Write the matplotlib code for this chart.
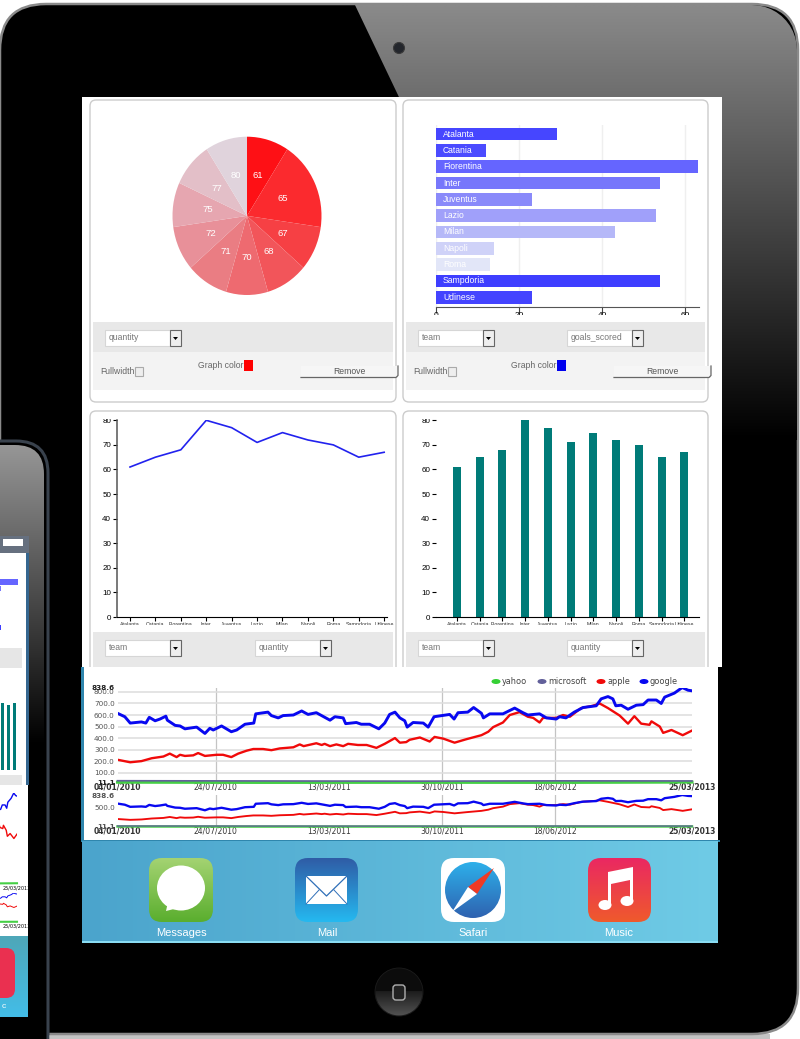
import numpy as np
from matplotlib import pyplot as plt
from matplotlib.colors import to_rgb
from matplotlib.patches import Circle, Ellipse, FancyBboxPatch, Polygon, Rectangle

W, H = 800, 1039

# chart data
teams = ['Atalanta', 'Catania', 'Fiorentina', 'Inter', 'Juventus', 'Lazio',
         'Milan', 'Napoli', 'Roma', 'Sampdoria', 'Udinese']
goals_scored = [29, 12, 63, 54, 23, 53, 43, 14, 13, 54, 23]
quantity = [61, 65, 68, 80, 77, 71, 75, 72, 70, 65, 67]

pie_labels = ['61', '65', '67', '68', '70', '71', '72', '75', '77', '80']
pie_counts = [1, 2, 1, 1, 1, 1, 1, 1, 1, 1]
pie_colors = ['#fe1015', '#fb2a2e', '#f64044', '#f2555a', '#ee6a70',
              '#ea7d83', '#e89099', '#e6a6b0', '#e3bfc8', '#e0d3dc']
bar_colors = ['#4646ff', '#4b4bff', '#6565ff', '#7777fb', '#8a8afa', '#a0a0fa',
              '#b5b8f8', '#cfd2f8', '#e2e6f8', '#3e3eff', '#4444ff']

# stock series: days since 04/01/2010, price
google_days = [0, 15, 26, 49, 58, 65, 77, 87, 99, 102, 118, 128, 138, 162, 179, 189, 196,
               213, 233, 244, 261, 279, 283, 308, 315, 329, 339, 360, 377, 390, 407, 435,
               445, 462, 467, 489, 499, 516, 535, 547, 557, 568, 578, 588, 593, 605, 626,
               636, 648, 680, 689, 697, 717, 729, 745, 749, 762, 789, 813, 830, 840, 864,
               878, 898, 905, 918, 935, 953, 980, 990, 1004, 1014, 1020, 1031, 1045, 1062,
               1076, 1086, 1103, 1113, 1120, 1140, 1156, 1168, 1176]
google = [615, 585, 530, 540, 530, 580, 550, 565, 590, 555, 510, 505, 480, 495, 440, 485, 470,
          505, 455, 470, 520, 530, 610, 625, 595, 575, 595, 600, 635, 605, 620, 555,
          585, 575, 525, 535, 520, 520, 480, 530, 605, 625, 575, 550, 495, 535, 530,
          495, 585, 605, 565, 620, 625, 665, 615, 575, 610, 610, 660, 620, 600, 610,
          575, 565, 585, 575, 625, 665, 680, 740, 760, 740, 680, 685, 650, 685,
          690, 730, 730, 700, 755, 790, 838, 815, 810]
apple_days = [0, 26, 49, 70, 94, 107, 121, 128, 138, 155, 165, 179, 203, 216, 233, 247, 264,
              278, 298, 315, 332, 360, 373, 381, 407, 418, 424, 435, 448, 462, 472, 492,
              510, 530, 547, 568, 578, 591, 598, 619, 639, 649, 667, 690, 714, 745, 759,
              769, 789, 803, 823, 840, 851, 864, 871, 898, 912, 926, 949, 973, 987, 1004,
              1028, 1045, 1058, 1072, 1089, 1093, 1110, 1117, 1134, 1157, 1176]
apple = [212, 190, 200, 225, 240, 265, 235, 255, 245, 250, 270, 245, 255, 255, 235, 265, 290,
         305, 305, 295, 310, 320, 345, 330, 355, 340, 350, 330, 345, 330, 350, 340,
         340, 315, 350, 400, 360, 365, 385, 405, 370, 410, 395, 360, 390, 425, 455,
         495, 535, 600, 625, 585, 575, 535, 575, 575, 600, 585, 660, 680, 700, 660,
         595, 525, 590, 525, 515, 545, 500, 445, 470, 425, 465]
flat_days = [0, 300, 600, 900, 1176]
yahoo = [17, 15, 16, 15, 18]
microsoft = [30, 28, 26, 29, 28]
date_ticks = [0, 201, 433, 664, 896, 1176]
date_labels = ['04/01/2010', '24/07/2010', '13/03/2011', '30/10/2011', '18/06/2012', '25/03/2013']
price_ticks = [11.1, 100, 200, 300, 400, 500, 600, 700, 800, 838.6]
price_labels = ['11.1', '100.0', '200.0', '300.0', '400.0', '500.0', '600.0', '700.0', '800.0', '838.6']

plt.rcParams['font.family'] = ['Liberation Sans', 'DejaVu Sans']
fig = plt.figure(figsize=(W / 100, H / 100), dpi=100, facecolor='white')


def px_axes(x0, y0, x1, y1, z=2):
    ax = fig.add_axes([x0 / W, 1 - y1 / H, (x1 - x0) / W, (y1 - y0) / H], zorder=z)
    ax.patch.set_alpha(0)
    return ax


def gradient(ax, x0, y0, x1, y1, c0, c1, clip=None, horizontal=False, z=1):
    t = np.linspace(0, 1, 128)
    arr = np.outer(1 - t, to_rgb(c0)) + np.outer(t, to_rgb(c1))
    arr = arr[None, :, :] if horizontal else arr[:, None, :]
    im = ax.imshow(arr, extent=(x0, x1, y1, y0), aspect='auto', zorder=z, interpolation='bilinear')
    if clip is not None:
        im.set_clip_path(clip)


def rbox(ax, x0, y0, x1, y1, r, fc, ec='none', lw=1, z=1):
    p = FancyBboxPatch((x0, y0), x1 - x0, y1 - y0, boxstyle=f'round,pad=0,rounding_size={r}',
                       fc=fc, ec=ec, lw=lw, zorder=z)
    ax.add_patch(p)
    return p


def rect(ax, x0, y0, x1, y1, fc, ec='none', lw=0.8, z=1):
    ax.add_patch(Rectangle((x0, y0), x1 - x0, y1 - y0, fc=fc, ec=ec, lw=lw, zorder=z))


# ---- device, screen and panel backgrounds ----
bg = px_axes(0, 0, W, H, z=0)
rect(bg, 50, 1034, 770, 1039, '#c4c4c4', z=0.5)
shell = rbox(bg, 0, 4, 798, 1034, 46, 'black', '#8a8a8a', 1.8)
# gloss area follows the rounded top right corner
arc = np.deg2rad(np.linspace(-90, 0, 12))
corner = [(752 + 45 * np.cos(a), 50 + 45 * np.sin(a)) for a in arc]
gloss = Polygon([(355, 5)] + corner + [(797, 560), (620, 560)], closed=True, fc='none', ec='none')
bg.add_patch(gloss)
gradient(bg, 340, 5, 800, 440, '#8a8a8a', '#000000', clip=gloss, z=1.1)
bg.add_patch(Circle((399, 48), 5.5, fc='#23262c', ec='#3a3a3a', lw=0.8, zorder=2))

rect(bg, 82, 97, 722, 668, 'white', z=2)
rect(bg, 81, 667, 720, 842, '#2f86ad', z=2)
rect(bg, 84, 667, 720, 840, 'white', z=2.1)

# dock
dock = Rectangle((82, 841), 636, 102, fc='none')
bg.add_patch(dock)
gradient(bg, 82, 841, 718, 943, '#4ba4cc', '#6fcbe6', clip=dock, horizontal=True, z=2)
rect(bg, 82, 941, 718, 943, '#8adcf2', z=2.1)

# Messages icon
p = rbox(bg, 149, 858, 213, 922, 13, 'none', z=3)
gradient(bg, 149, 858, 213, 922, '#a4d372', '#5aae2e', clip=p, z=3)
bg.add_patch(Ellipse((181, 888), 48, 45, fc='white', zorder=4))
bg.add_patch(Polygon([(168, 902), (166, 911), (178, 908)], fc='white', zorder=4))
# Mail icon
p = rbox(bg, 295, 858, 358, 922, 13, 'none', z=3)
gradient(bg, 295, 858, 358, 922, '#2f5ca6', '#25b9f0', clip=p, z=3)
rect(bg, 306, 876, 347, 904, 'white', z=4)
bg.plot([306, 326.5, 347], [876, 896, 876], color='#2f6fb8', lw=0.9, zorder=5)
bg.plot([306, 319], [904, 890], color='#2f6fb8', lw=0.7, zorder=5)
bg.plot([347, 334], [904, 890], color='#2f6fb8', lw=0.7, zorder=5)
# Safari icon
rbox(bg, 441, 858, 505, 922, 13, 'white', z=3)
p = Circle((473, 890), 28, fc='none')
bg.add_patch(p)
gradient(bg, 445, 862, 501, 918, '#2db0ea', '#2f62b0', clip=p, z=4)
bg.add_patch(Polygon([(494, 868), (468, 887), (477, 894)], fc='#f03a24', zorder=5))
bg.add_patch(Polygon([(452, 912), (468, 887), (477, 894)], fc='white', zorder=5))
# Music icon
p = rbox(bg, 588, 858, 651, 922, 13, 'none', z=3)
gradient(bg, 588, 858, 651, 922, '#ea2862', '#ef5a2c', clip=p, z=3)
bg.add_patch(Ellipse((605, 905), 13, 10, fc='white', zorder=4))
bg.add_patch(Ellipse((627, 901), 13, 10, fc='white', zorder=4))
bg.add_patch(Polygon([(608, 905), (611, 905), (611, 884), (630, 880), (630, 901), (633, 901),
                      (633, 867), (608, 872)], fc='white', zorder=4))
for name, cx in zip(['Messages', 'Mail', 'Safari', 'Music'], [181, 327, 473, 619]):
    bg.text(cx, 933, name, color='white', fontsize=8, ha='center', va='center', zorder=5)

# home button
bg.add_patch(Circle((399, 992), 24, fc='#0c0c0c', ec='#1c1c1c', lw=0.6, zorder=2))
hb = Circle((399, 992), 23.5, fc='none')
bg.add_patch(hb)
gradient(bg, 375, 991, 423, 1017, '#1c1c1c', '#555555', clip=hb, z=2.1)
rbox(bg, 393, 985, 405, 1000, 3, '#222222', '#b0b0b0', 1, z=3)

# panels
for x0, x1 in [(90, 396), (403, 708)]:
    rbox(bg, x0, 100, x1, 402, 6, 'white', '#cccccc', 1, z=2.2)
    rbox(bg, x0, 411, x1, 690, 6, 'white', '#cccccc', 1, z=2.2)
rect(bg, 84, 667, 722, 695, 'white', z=2.4)
rect(bg, 718, 667, 722, 840, 'black', z=2.4)

# phone in front of the tablet
phone = rbox(bg, -70, 441, 48, 1120, 32, 'black', '#39424d', 2.2, z=6)
inner = rbox(bg, -70, 445, 44, 1120, 29, 'none', z=6)
gradient(bg, -70, 445, 44, 745, '#969696', '#000000', clip=inner, z=6.1)
rect(bg, 0, 536, 29, 553, '#66707f', z=6.2)
rect(bg, 3, 539, 23, 546, 'white', z=6.3)
rect(bg, 0, 553, 26, 785, 'white', z=6.2)
rect(bg, 26, 553, 29, 785, '#35668f', z=6.2)
rect(bg, 0, 648, 22, 668, '#e6e6e6', z=6.3)
rect(bg, 0, 775, 22, 787, '#e6e6e6', z=6.3)
rect(bg, 0, 785, 28, 936, 'white', z=6.3)
dock2 = Rectangle((0, 936), 28, 81, fc='none')
bg.add_patch(dock2)
gradient(bg, 0, 936, 28, 1017, '#4ea7b8', '#43bde8', clip=dock2, z=6.3)
rbox(bg, -20, 948, 15, 998, 9, '#ea3050', z=6.4)
bg.text(4, 1006, 'c', color='white', fontsize=6, ha='center', va='center', zorder=6.5)
bg.set_xlim(0, W)
bg.set_ylim(H, 0)
bg.axis('off')

# ---- pie ----
ax = px_axes(172.5, 136.7, 321.5, 295)
wedges, _ = ax.pie(pie_counts, colors=pie_colors, startangle=90, counterclock=False,
                   wedgeprops={'edgecolor': 'none'})
ax.set_aspect('auto')
ax.set_xlim(-1, 1)
ax.set_ylim(-1, 1)
for w, lab in zip(wedges, pie_labels):
    a = np.deg2rad((w.theta1 + w.theta2) / 2)
    ax.text(0.53 * np.cos(a), 0.53 * np.sin(a), lab, color='white', fontsize=6.8,
            ha='center', va='center')

# ---- horizontal bars ----
ax = px_axes(436.3, 125, 699.3, 306.7)
ax.barh(range(len(teams)), goals_scored, height=0.78, color=bar_colors)
for i, t in enumerate(teams):
    ax.text(1.6, i, t, color='white', fontsize=6.2, va='center')
ax.set_xlim(0, 63.4)
ax.set_ylim(10.58, -0.56)
ax.set_xticks([0, 20, 40, 60])
ax.set_yticks([])
ax.xaxis.grid(True, color='#efefef', lw=1)
ax.set_axisbelow(True)
for s in ['top', 'right', 'left']:
    ax.spines[s].set_visible(False)
ax.spines['bottom'].set_color('#555555')
ax.tick_params(axis='x', length=4, labelsize=6, color='#444444', pad=0)

# ---- line and column charts ----
line_ax = px_axes(117.3, 420.3, 386.7, 617)
line_ax.plot(range(len(teams)), quantity, color='#2222ee', lw=1.2)
line_ax.set_xlim(-0.5, 10.1)
bar_ax = px_axes(436.3, 420.3, 699.3, 617)
bar_ax.bar(range(len(teams)), quantity, width=0.35, color='#007b78')
bar_ax.set_xlim(-0.91, 10.66)
for ax in [line_ax, bar_ax]:
    ax.set_ylim(0, 80)
    ax.set_yticks(range(0, 81, 10))
    ax.set_xticks(range(len(teams)))
    ax.set_xticklabels(teams, fontsize=3.8, color='#333333')
    ax.tick_params(axis='y', labelsize=5.8, length=3, pad=1.5)
    ax.tick_params(axis='x', length=3, pad=0.5)
    for s in ['top', 'right']:
        ax.spines[s].set_visible(False)
    ax.spines['left'].set_color('#555555')
line_ax.spines['left'].set_linewidth(1.1)
bar_ax.spines['left'].set_visible(False)

# ---- stock charts ----
main = px_axes(117.5, 687.5, 692, 782.9)
over = px_axes(117.5, 795, 692, 826.7)
for ax, lw in [(main, 1), (over, 0.8)]:
    ax.plot(flat_days, yahoo, color='#45cf45', lw=2.2 * lw, clip_on=False)
    ax.plot(flat_days, microsoft, color='#62609a', lw=1.2 * lw, clip_on=False)
    ax.plot(apple_days, apple, color='#f00a0a', lw=1.7 * lw)
    ax.plot(google_days, google, color='#0808f0', lw=2.1 * lw)
    ax.set_xlim(0, 1176)
    ax.set_ylim(11.1, 838.6)
    ax.set_xticks(date_ticks)
    ax.set_xticklabels(date_labels, family='DejaVu Sans', fontsize=5.5, color='#333333')
    ax.tick_params(axis='x', length=0, pad=0)
    ax.tick_params(axis='y', length=0, pad=2)
    ax.get_xticklabels()[0].set_fontweight('bold')
    ax.get_xticklabels()[-1].set_fontweight('bold')
    for s in ax.spines.values():
        s.set_visible(False)
    for d in date_ticks[1:-1]:
        if d != 433:
            ax.axvline(d, color='#c4c4c4', lw=0.9, zorder=0)
main.set_yticks(price_ticks)
main.set_yticklabels(price_labels, family='DejaVu Sans', fontsize=5.2, color='#555555')
for i in [0, -1]:
    main.get_yticklabels()[i].set_fontweight('bold')
    main.get_yticklabels()[i].set_color('#222222')
for v in price_ticks[1:-1]:
    main.axhline(v, color='#dddddd', lw=1.1, zorder=0)
over.set_yticks([11.1, 500, 838.6])
over.set_yticklabels(['11.1', '500.0', '838.6'], family='DejaVu Sans', fontsize=5.2, color='#555555')
for i in [0, -1]:
    over.get_yticklabels()[i].set_fontweight('bold')

# ---- small copies on the phone screen ----
ph = px_axes(0, 560, 18, 640, z=7)
ph.barh(range(len(teams)), goals_scored, height=0.78, color=bar_colors)
ph.set_xlim(53.47, 63)
ph.set_ylim(10.92, -1.38)
ph.axis('off')
ph = px_axes(0, 703, 18, 770, z=7)
ph.bar(range(len(teams)), quantity, width=0.38, color='#007b78')
ph.set_xlim(7.57, 10.57)
ph.set_ylim(0, 67)
ph.axis('off')
for y0, y1, lw in [(793, 884, 1.0), (893, 922, 0.7)]:
    ph = px_axes(0, y0, 17, y1, z=7)
    ph.plot(flat_days, yahoo, color='#45cf45', lw=1.5, clip_on=False)
    ph.plot(apple_days, apple, color='#f00a0a', lw=lw)
    ph.plot(google_days, google, color='#0808f0', lw=lw)
    ph.set_xlim(1072, 1176)
    ph.set_ylim(11.1, 838.6)
    ph.set_xticks([1176])
    ph.set_xticklabels(['25/03/2013'], family='DejaVu Sans', fontsize=3.5)
    ph.set_yticks([])
    ph.tick_params(length=0, pad=1)
    for s in ph.spines.values():
        s.set_visible(False)

# ---- form controls above the charts ----
top = px_axes(0, 0, W, H, z=3)


def dropdown(x0, y0, label):
    rect(top, x0, y0, x0 + 65, y0 + 16, 'white', '#d6d6d6')
    rect(top, x0 + 65, y0, x0 + 76, y0 + 16, '#eeeeee', '#666666')
    top.add_patch(Polygon([(x0 + 68, y0 + 7), (x0 + 73, y0 + 7), (x0 + 70.5, y0 + 10)], fc='black', zorder=3))
    top.text(x0 + 4, y0 + 8, label, fontsize=6.2, color='#777777', va='center', zorder=3)


def footer(dx, color):
    top.text(100 + dx, 372, 'Fullwidth', fontsize=6.2, color='#666666', va='center')
    rect(top, 134.5 + dx, 367, 143 + dx, 375.5, '#eeeeee', '#aaaaaa')
    top.text(198 + dx, 365.5, 'Graph color', fontsize=6.2, color='#666666', va='center')
    rect(top, 244 + dx, 360, 253 + dx, 371, color)
    rect(top, 301 + dx, 366, 398 + dx, 377.5, '#f6f6f6')
    top.plot([301 + dx, 396 + dx, 398 + dx, 398 + dx], [377.5, 377.5, 375.5, 366],
             color='#666666', lw=0.9, zorder=2)
    top.text(349 + dx, 371.5, 'Remove', fontsize=6.2, color='#555555', ha='center', va='center', zorder=3)


# gray strips and the whiteouts that cut the hidden axis labels
for x0, x1 in [(90, 396), (403, 708)]:
    rect(top, x0 + 3, 322, x1 - 3, 352, '#e8e8e8')
    rect(top, x0 + 3, 352, x1 - 3, 390, '#f3f3f3')
    rect(top, x0 + 3, 632, x1 - 3, 667, '#e8e8e8')
    rect(top, x0 + 3, 625, x1 - 3, 632, 'white')
    rect(top, x0 + 3, 413, x1 - 3, 418.8, 'white')
rect(top, 406, 315, 705, 322, 'white')

dropdown(105, 330, 'quantity')
dropdown(418, 330, 'team')
dropdown(567, 330, 'goals_scored')
dropdown(105, 640, 'team')
dropdown(255, 640, 'quantity')
dropdown(418, 640, 'team')
dropdown(567, 640, 'quantity')
footer(0, '#ff0000')
footer(313, '#0000ee')

# legend of the stock chart
for cx, name, col in [(496, 'yahoo', '#35d035'), (542, 'microsoft', '#62609a'),
                      (601, 'apple', '#f00a0a'), (644, 'google', '#0808f0')]:
    top.add_patch(Ellipse((cx, 681.5), 9, 5, fc=col, zorder=3))
    top.text(cx + 6, 681.5, name, family='DejaVu Sans', fontsize=5.9, color='#444444', va='center', zorder=3)

top.set_xlim(0, W)
top.set_ylim(H, 0)
top.axis('off')

fig.savefig('out.png', dpi=100)
